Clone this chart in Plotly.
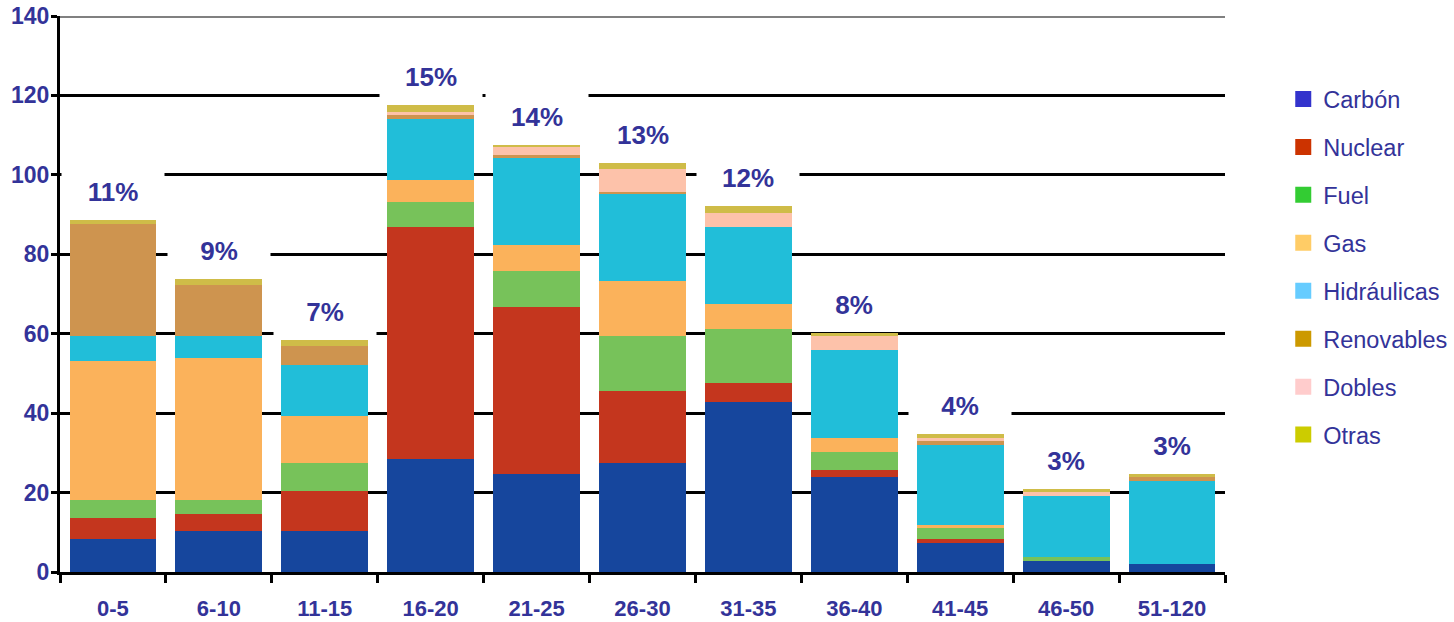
import plotly.graph_objects as go

categories = ["0-5", "6-10", "11-15", "16-20", "21-25", "26-30", "31-35", "36-40", "41-45", "46-50", "51-120"]
carbon      = [8.3, 10.2, 10.2, 28.4, 24.6, 27.4, 42.9, 23.9, 7.3, 2.7, 1.9]
nuclear     = [5.4, 4.5, 10.1, 58.5, 42.2, 18.3, 4.6, 1.7, 1.0, 0.0, 0.0]
fuel        = [4.5, 3.5, 7.2, 6.3, 9.1, 13.7, 13.7, 4.6, 2.9, 1.0, 0.0]
gas         = [34.9, 35.6, 11.9, 5.4, 6.5, 13.8, 6.4, 3.5, 0.7, 0.0, 0.0]
hidraulicas = [6.4, 5.7, 12.7, 15.5, 21.8, 21.9, 19.3, 22.1, 20.0, 15.5, 21.0]
renovables  = [28.2, 12.7, 4.7, 1.0, 0.7, 0.7, 0.0, 0.0, 1.1, 0.0, 0.9]
dobles      = [0.0, 0.0, 0.0, 0.8, 2.0, 5.6, 3.5, 3.6, 0.7, 1.1, 0.0]
otras       = [1.0, 1.5, 1.6, 1.7, 0.7, 1.7, 1.8, 0.8, 1.0, 0.5, 0.8]
percent_labels = ["11%", "9%", "7%", "15%", "14%", "13%", "12%", "8%", "4%", "3%", "3%"]
y_ticks = [0, 20, 40, 60, 80, 100, 120, 140]

series = [
    ("Carbón", carbon, "#16469D", "#3333CC"),
    ("Nuclear", nuclear, "#C4361E", "#CC3300"),
    ("Fuel", fuel, "#77C25A", "#33CC33"),
    ("Gas", gas, "#FBB25B", "#FFCC66"),
    ("Hidráulicas", hidraulicas, "#21BED9", "#66CCFF"),
    ("Renovables", renovables, "#CE944F", "#CC9900"),
    ("Dobles", dobles, "#FDC2AA", "#FFCCCC"),
    ("Otras", otras, "#CFBC48", "#CCCC00"),
]

TXT = "#333399"
FONT = "Liberation Sans, Arial, sans-serif"

fig = go.Figure()
for name, vals, col, _ in series:
    fig.add_trace(go.Bar(x=categories, y=vals, name=name, marker=dict(color=col, line=dict(width=0)),
                         showlegend=False, hoverinfo="x+y+name"))
for name, _, _, lcol in series:
    fig.add_trace(go.Scatter(x=[None], y=[None], mode="markers", name=name, legendgroup=name,
                             marker=dict(symbol="square", size=17, color=lcol), showlegend=True))

totals = [sum(s[1][i] for s in series) for i in range(len(categories))]
for cat, tot, lab in zip(categories, totals, percent_labels):
    fig.add_annotation(x=cat, y=tot, text="<b>%s</b>" % lab, showarrow=False, yanchor="middle",
                       yshift=28, bgcolor="white", width=100, height=46,
                       font=dict(family=FONT, size=26, color=TXT))

fig.add_shape(type="line", xref="paper", yref="y", x0=0, x1=1, y0=140, y1=140,
              line=dict(color="#808080", width=4), layer="above")

fig.update_layout(
    width=1454, height=622,
    barmode="stack", bargap=0.18,
    paper_bgcolor="white", plot_bgcolor="white",
    margin=dict(l=60, r=229, t=16, b=50, autoexpand=False),
    font=dict(family=FONT, color=TXT),
    legend=dict(x=1.050, xanchor="left", y=0.89, yanchor="top", traceorder="grouped",
                tracegroupgap=14.4, font=dict(family=FONT, size=23.5, color=TXT),
                itemsizing="trace", bgcolor="rgba(0,0,0,0)"),
    xaxis=dict(type="category", showline=True, linecolor="black", linewidth=3, automargin=False,
               ticks="outside", tickson="boundaries", ticklen=8, tickwidth=3, tickcolor="black",
               ticklabelstandoff=15,
               showgrid=False, tickfont=dict(family=FONT, size=22, color=TXT, weight="bold")),
    yaxis=dict(range=[0, 140], tickvals=y_ticks, showline=True, linecolor="black", linewidth=3,
               automargin=False, ticklabeloverflow="allow", ticklabelstandoff=-3,
               ticks="outside", ticklen=6, tickwidth=3, tickcolor="black",
               showgrid=True, gridcolor="black", gridwidth=3, zeroline=False,
               tickfont=dict(family=FONT, size=23, color=TXT, weight="bold")),
)

fig.write_html("out.html", config={"displayModeBar": False},
               post_script="document.body.style.margin='0';")
